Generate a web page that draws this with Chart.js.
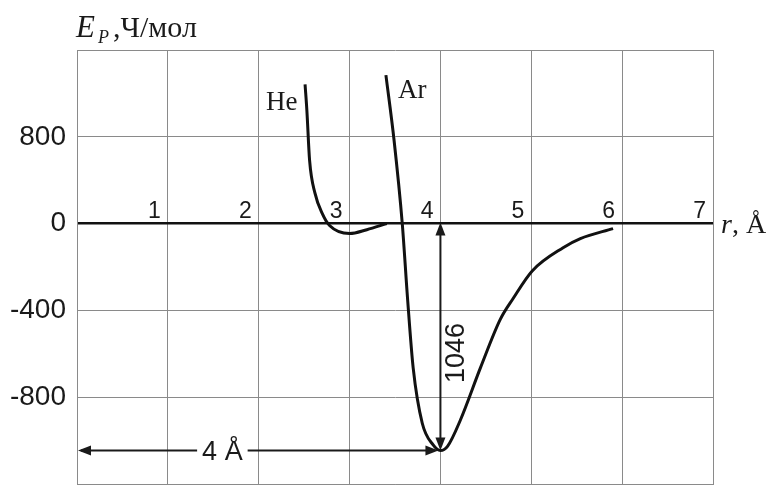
<!DOCTYPE html>
<html>
<head>
<meta charset="utf-8">
<script src="https://cdn.jsdelivr.net/npm/chart.js@4/dist/chart.umd.min.js"></script>
<style>
  html, body { margin: 0; padding: 0; background: #fff; }
  #wrap { width: 769px; height: 487px; }
</style>
</head>
<body>
<div id="wrap"><canvas id="potential"></canvas></div>
<script>
// Axis ticks
const rTicks = [1, 2, 3, 4, 5, 6, 7];
const yTickValues = [400, 0, -400, -800];
const yTickLabels = ['800', '0', '-400', '-800'];

// Helium curve
const heRadius = [2.51, 2.53, 2.56, 2.62, 2.70, 2.78, 3.00, 3.19, 3.41];
const heEnergy = [642, 522, 291, 139, 46, -9, -46, -28, 0];

// Argon curve
const arRadius = [3.40, 3.49, 3.58, 3.64, 3.70, 3.80, 3.92, 4.00, 4.08, 4.22, 4.44, 4.66, 4.80, 5.01, 5.35, 5.54, 5.90];
const arEnergy = [684, 383, 0, -356, -665, -920, -1020, -1046, -1025, -905, -665, -440, -345, -218, -111, -69, -23];

// Well depth and position of the minimum
const wellRadius = 4;
const wellDepth = 1046;

const toPoints = (xs, ys) => xs.map((x, i) => ({x: x, y: ys[i]}));

function arrowHead(ctx, x, y, dx, dy) {
	// filled triangle with tip at (x, y), pointing along (dx, dy)
	const len = 13, half = 5;
	const px = -dy, py = dx;
	ctx.beginPath();
	ctx.moveTo(x, y);
	ctx.lineTo(x - dx * len + px * half, y - dy * len + py * half);
	ctx.lineTo(x - dx * len - px * half, y - dy * len - py * half);
	ctx.closePath();
	ctx.fill();
}

const labelsPlugin = {
	id: 'labels',
	afterDatasetsDraw(chart) {
		const ctx = chart.ctx;
		const xs = chart.scales.x, ys = chart.scales.y;
		const y0 = ys.getPixelForValue(0);
		ctx.save();
		ctx.fillStyle = '#1a1a1a';
		ctx.strokeStyle = '#1a1a1a';

		// r numbers sitting on the zero line
		ctx.font = '23px "Liberation Sans", Arial, sans-serif';
		ctx.textAlign = 'right';
		ctx.textBaseline = 'alphabetic';
		rTicks.forEach(v => ctx.fillText(String(v), xs.getPixelForValue(v) - 7, y0 - 6));

		// curve names
		ctx.font = '27px "Liberation Serif", "Times New Roman", serif';
		ctx.textAlign = 'left';
		ctx.fillText('He', 266, 110);
		ctx.fillText('Ar', 398, 98);

		// vertical arrow: depth of the Ar well
		const xw = xs.getPixelForValue(wellRadius);
		const yw = ys.getPixelForValue(-wellDepth);
		ctx.lineWidth = 2;
		ctx.beginPath();
		ctx.moveTo(xw, y0 + 4);
		ctx.lineTo(xw, yw - 4);
		ctx.stroke();
		arrowHead(ctx, xw, y0 - 1, 0, -1);
		arrowHead(ctx, xw, yw, 0, 1);

		ctx.save();
		ctx.translate(xw + 16, (y0 + yw) / 2 + 16);
		ctx.rotate(-Math.PI / 2);
		ctx.font = '27px "Liberation Sans", Arial, sans-serif';
		ctx.textAlign = 'center';
		ctx.textBaseline = 'middle';
		ctx.fillText(String(wellDepth), 0, 0);
		ctx.restore();

		// horizontal arrow: position of the minimum
		const xl = xs.getPixelForValue(0);
		ctx.beginPath();
		ctx.moveTo(xl + 4, yw);
		ctx.lineTo(xw - 6, yw);
		ctx.stroke();
		arrowHead(ctx, xl + 1, yw, -1, 0);
		arrowHead(ctx, xw - 2, yw, 1, 0);

		ctx.font = '27px "Liberation Sans", Arial, sans-serif';
		ctx.textAlign = 'center';
		ctx.textBaseline = 'middle';
		const txt = wellRadius + ' Å';
		const tx = xs.getPixelForValue(1.6);
		const tw = ctx.measureText(txt).width;
		ctx.fillStyle = '#fff';
		ctx.fillRect(tx - tw / 2 - 5, yw - 3, tw + 10, 6);
		ctx.fillStyle = '#1a1a1a';
		ctx.fillText(txt, tx, yw + 2);
		ctx.restore();
	},
	afterDraw(chart) {
		const ctx = chart.ctx;
		const area = chart.chartArea;
		const y0 = chart.scales.y.getPixelForValue(0);
		ctx.save();
		ctx.fillStyle = '#1a1a1a';
		ctx.textBaseline = 'alphabetic';
		ctx.textAlign = 'left';

		// y axis title: E_P, Ч/мол
		ctx.font = 'italic 31px "Liberation Serif", "Times New Roman", serif';
		ctx.fillText('E', 76, 37);
		ctx.font = 'italic 18px "Liberation Serif", "Times New Roman", serif';
		ctx.fillText('P', 98, 43);
		ctx.font = '30px "Liberation Serif", "Times New Roman", serif';
		ctx.fillText(',Ч/мол', 113, 37);

		// x axis title: r, Å
		ctx.font = 'italic 28px "Liberation Serif", "Times New Roman", serif';
		ctx.fillText('r', area.right + 8, y0 + 9);
		const rw = ctx.measureText('r').width;
		ctx.font = '28px "Liberation Serif", "Times New Roman", serif';
		ctx.fillText(', Å', area.right + 8 + rw, y0 + 9);
		ctx.restore();
	}
};

new Chart(document.getElementById('potential'), {
	type: 'line',
	data: {
		datasets: [{
			label: 'He',
			data: toPoints(heRadius, heEnergy),
			borderColor: '#111',
			borderWidth: 3,
			pointRadius: 0,
			cubicInterpolationMode: 'monotone',
			fill: false
		}, {
			label: 'Ar',
			data: toPoints(arRadius, arEnergy),
			borderColor: '#111',
			borderWidth: 3,
			pointRadius: 0,
			cubicInterpolationMode: 'monotone',
			fill: false
		}]
	},
	options: {
		responsive: true,
		maintainAspectRatio: false,
		animation: false,
		layout: {
			padding: {left: 0, top: 50, right: 56, bottom: 3}
		},
		plugins: {
			legend: {display: false},
			tooltip: {enabled: false}
		},
		scales: {
			x: {
				type: 'linear',
				min: 0,
				max: 7,
				ticks: {display: false, stepSize: 1},
				grid: {
					color: '#8a8a8a',
					lineWidth: 1,
					drawTicks: false
				},
				border: {color: '#8a8a8a'},
				afterFit(scale) {
					scale.height = 0;
					scale.paddingLeft = 0;
					scale.paddingRight = 0;
				}
			},
			y: {
				min: -1200,
				max: 800,
				ticks: {
					stepSize: 400,
					padding: 11,
					color: '#1a1a1a',
					font: {family: '"Liberation Sans", Arial, sans-serif', size: 28},
					callback: function(value) {
						const i = yTickValues.indexOf(value);
						return i >= 0 ? yTickLabels[i] : '';
					}
				},
				grid: {
					color: ctx => ctx.tick && ctx.tick.value === 0 ? '#111' : '#8a8a8a',
					lineWidth: ctx => ctx.tick && ctx.tick.value === 0 ? 2.5 : 1,
					drawTicks: false
				},
				border: {color: '#8a8a8a'},
				afterFit(scale) {
					scale.width = 77;
					scale.paddingTop = 0;
					scale.paddingBottom = 0;
				}
			}
		}
	},
	plugins: [labelsPlugin]
});
</script>
</body>
</html>
